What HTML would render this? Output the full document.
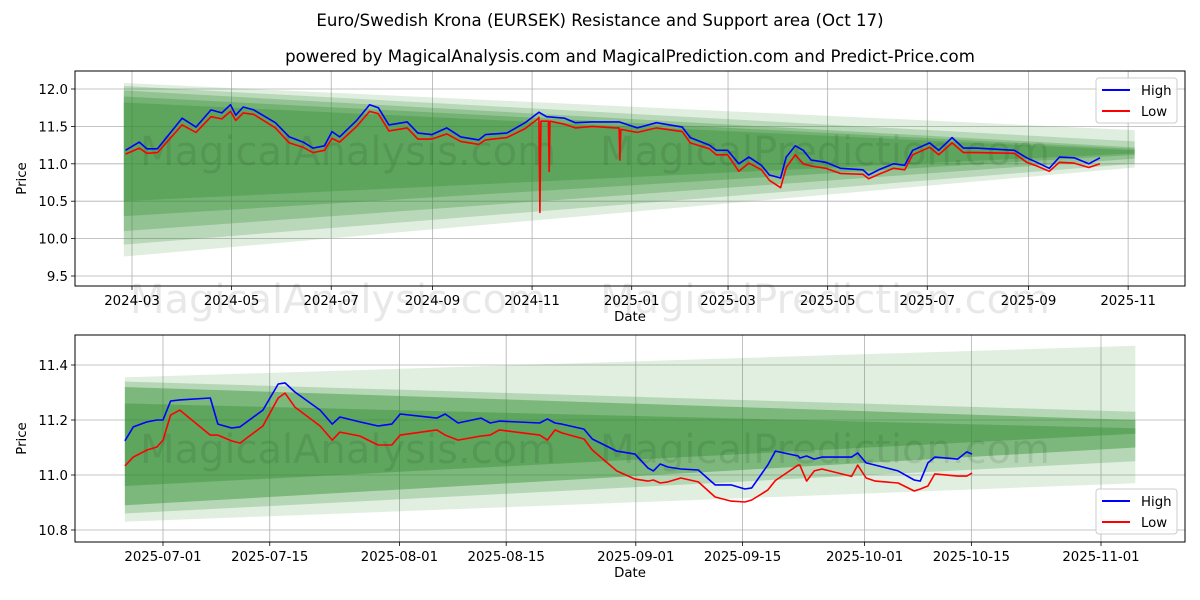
<!DOCTYPE html>
<html><head><meta charset="utf-8"><style>
body{margin:0;background:#fff;}
svg{display:block;font-family:"DejaVu Sans","Liberation Sans",sans-serif;}
</style></head><body>
<svg id="c" width="1200" height="600" viewBox="0 0 1200 600">
<text x="600" y="26" text-anchor="middle" font-size="16.6">Euro/Swedish Krona (EURSEK) Resistance and Support area (Oct 17)</text>
<text x="630" y="62" text-anchor="middle" font-size="16.6">powered by MagicalAnalysis.com and MagicalPrediction.com and Predict-Price.com</text>
</svg>
<script>
// ---- top chart data (days since 2024-03-01) ----
const topHighDays=[-4,4.5,9.1,15.6,30.7,39.2,48.4,55,60.3,63.5,68.1,74.6,87.8,96.3,104.8,110.8,117.9,122.5,127.1,137.6,145.5,150.8,157.3,168.5,175.1,183.6,192.8,201.3,212.4,216.4,229.5,240.7,249.2,253.8,264.9,271.5,282,298.3,309.4,321.1,337,341.9,353.6,357.8,364.7,371.6,377.8,385.4,390.3,397.2,400.6,406.2,411,415.9,424.8,433.8,447.6,451.1,457.3,466.3,473.2,478.1,488.4,494,502.2,509.2,516.8,540.3,547.9,554.1,561.7,567.9,576.9,585.9,592.8];
const topHigh=[11.18,11.29,11.2,11.2,11.61,11.49,11.72,11.68,11.79,11.65,11.76,11.72,11.55,11.36,11.29,11.21,11.24,11.43,11.36,11.58,11.79,11.75,11.52,11.56,11.41,11.39,11.48,11.36,11.32,11.39,11.41,11.55,11.69,11.63,11.61,11.55,11.56,11.56,11.48,11.55,11.49,11.35,11.25,11.18,11.18,11.0,11.09,10.98,10.85,10.81,11.09,11.24,11.18,11.05,11.02,10.94,10.92,10.85,10.92,11.0,10.98,11.18,11.28,11.18,11.35,11.21,11.21,11.18,11.08,11.02,10.94,11.09,11.08,11.0,11.08];
const topLowDays=[-4,4.5,9.1,15.6,30.7,39.2,48.4,55,60.3,63.5,68.1,74.6,87.8,96.3,104.8,110.8,117.9,122.5,127.1,137.6,145.5,150.8,157.3,168.5,175.1,183.6,192.8,201.3,212.4,216.4,229.5,240.7,248.5,249.2,249.8,250.4,253.8,255,255.5,256,264.9,271.5,282,296,298.3,298.8,299.3,309.4,321.1,337,341.9,353.6,357.8,364.7,371.6,377.8,385.4,390.3,397.2,400.6,406.2,411,415.9,424.8,433.8,447.6,451.1,457.3,466.3,473.2,478.1,488.4,494,502.2,509.2,516.8,540.3,547.9,554.1,561.7,567.9,576.9,585.9,592.8];
const topLow=[11.13,11.21,11.14,11.15,11.52,11.42,11.63,11.6,11.7,11.58,11.68,11.66,11.48,11.28,11.22,11.15,11.18,11.34,11.29,11.5,11.7,11.67,11.44,11.48,11.33,11.33,11.4,11.3,11.26,11.32,11.35,11.47,11.6,11.62,10.35,11.57,11.57,11.57,10.9,11.57,11.53,11.48,11.5,11.48,11.48,11.05,11.46,11.42,11.48,11.43,11.28,11.2,11.12,11.12,10.9,11.01,10.92,10.78,10.68,10.95,11.12,11.0,10.97,10.94,10.87,10.86,10.8,10.86,10.94,10.92,11.12,11.22,11.12,11.28,11.15,11.15,11.14,11.02,10.97,10.9,11.02,11.01,10.95,11.0];
const topTicks=["2024-03","2024-05","2024-07","2024-09","2024-11","2025-01","2025-03","2025-05","2025-07","2025-09","2025-11"];
const topTickDays=[0,61,122,184,245,306,365,426,487,549,610];
const topYTicks=[9.5,10.0,10.5,11.0,11.5,12.0];
const topBandsLT=[12.08,12.04,11.98,11.9,11.82];
const topBandsLB=[9.76,9.92,10.1,10.3,10.5];
const topBandsRT=[11.45,11.3,11.22,11.2,11.18];
const topBandsRB=[10.95,11.0,11.07,11.12,11.14];
// ---- bottom chart data (days since 2025-07-01) ----
const botDays=[-5,-3.9,-2.1,-0.8,0,1,2.2,6.2,7.2,9,10.1,13.1,15.1,16,17.3,20.6,22.2,23.2,25.8,28.2,30,31.1,35.9,37,38.7,41.7,42.9,44.1,49.4,50.4,51.4,52.3,55.2,56.3,59.5,61.9,63.6,64.3,65.2,66.2,67.9,70.2,72.4,74.5,76.3,77.2,79.3,80.3,83.3,83.5,84.4,85.4,86.4,90.3,91.1,92.2,93.4,96.4,98.5,99.3,100.3,101.2,104.2,105.4,106.1];
const botHigh=[11.124,11.175,11.193,11.2,11.2,11.269,11.273,11.28,11.185,11.171,11.175,11.236,11.331,11.335,11.302,11.236,11.185,11.211,11.193,11.178,11.185,11.222,11.207,11.222,11.189,11.207,11.189,11.196,11.189,11.204,11.189,11.185,11.167,11.131,11.087,11.076,11.025,11.015,11.04,11.029,11.022,11.018,10.964,10.964,10.949,10.953,11.036,11.087,11.069,11.062,11.069,11.058,11.065,11.065,11.08,11.044,11.036,11.015,10.982,10.978,11.044,11.065,11.058,11.084,11.076];
const botLow=[11.033,11.065,11.091,11.102,11.127,11.218,11.236,11.145,11.145,11.124,11.116,11.178,11.28,11.298,11.247,11.178,11.127,11.156,11.142,11.109,11.109,11.145,11.164,11.145,11.127,11.142,11.145,11.164,11.145,11.127,11.164,11.153,11.131,11.091,11.015,10.985,10.978,10.982,10.971,10.975,10.989,10.975,10.92,10.905,10.902,10.909,10.945,10.98,11.036,11.036,10.978,11.015,11.022,10.995,11.036,10.989,10.978,10.971,10.942,10.949,10.96,11.004,10.996,10.996,11.007];
const botTicks=["2025-07-01","2025-07-15","2025-08-01","2025-08-15","2025-09-01","2025-09-15","2025-10-01","2025-10-15","2025-11-01"];
const botTickDays=[0,14,31,45,62,76,92,106,123];
const botYTicks=[10.8,11.0,11.2,11.4];
const botBandsLT=[11.355,11.34,11.32,11.26];
const botBandsLB=[10.83,10.86,10.89,10.96];
const botBandsRT=[11.47,11.23,11.2,11.17];
const botBandsRB=[10.97,11.05,11.1,11.15];

const NS="http://www.w3.org/2000/svg";
const svg=document.getElementById('c');
function mk(tag,attrs,parent){const e=document.createElementNS(NS,tag);for(const k in attrs)e.setAttribute(k,attrs[k]);(parent||svg).appendChild(e);return e;}

function panel(cfg){
  const g=mk('g',{});
  
  
  const X=d=>cfg.x0+(d-cfg.d0)*cfg.pxd;
  const Y=v=>cfg.y0-(v-cfg.v0)*cfg.pxv;
  cfg.tickDays.forEach((d,i)=>{
    const l=mk('line',{x1:X(d),x2:X(d),y1:cfg.top,y2:cfg.bot,stroke:'#b0b0b0','stroke-width':0.8},g);
    
    
    mk('line',{x1:X(d),x2:X(d),y1:cfg.bot,y2:cfg.bot+4,stroke:'#000','stroke-width':0.8},g);
    const t=mk('text',{x:X(d),y:cfg.bot+19,'text-anchor':'middle','font-size':13.3},g);
    t.textContent=cfg.ticks[i];
    
    
  });
  cfg.yTicks.forEach(v=>{
    const l=mk('line',{x1:cfg.left,x2:cfg.right,y1:Y(v),y2:Y(v),stroke:'#b0b0b0','stroke-width':0.8},g);
    
    
    mk('line',{x1:cfg.left-4,x2:cfg.left,y1:Y(v),y2:Y(v),stroke:'#000','stroke-width':0.8},g);
    const t=mk('text',{x:cfg.left-7,y:Y(v)+5,'text-anchor':'end','font-size':13.3},g);
    t.textContent=v.toFixed(1);
    
    
  });
  cfg.LT.forEach((lt,i)=>{
    const xa=X(cfg.bd0),xb=X(cfg.bd1);
    const p=mk('polygon',{points:`${xa},${Y(lt)} ${xb},${Y(cfg.RT[i])} ${xb},${Y(cfg.RB[i])} ${xa},${Y(cfg.LB[i])}`,fill:'#2e8b2e','fill-opacity':cfg.alphas[i]},g);
    
    
  });
  cfg.marks.forEach(m=>{
    const t=mk('text',{x:m[0],y:m[1],'font-size':40,fill:'#000','fill-opacity':0.09},g);
    t.textContent=m[2];
    
    
  });
  const path=(days,vals)=>days.map((d,i)=>(i?'L':'M')+X(d).toFixed(1)+','+Y(vals[i]).toFixed(1)).join(' ');
  const hl=mk('path',{d:path(cfg.hd,cfg.h),fill:'none',stroke:'#0000ff','stroke-width':1.6,'stroke-linejoin':'round'},g);
  
  
  const ll=mk('path',{d:path(cfg.ld,cfg.l),fill:'none',stroke:'#ff0000','stroke-width':1.6,'stroke-linejoin':'round'},g);
  
  
  const f=mk('rect',{x:cfg.left,y:cfg.top,width:cfg.right-cfg.left,height:cfg.bot-cfg.top,fill:'none',stroke:'#000','stroke-width':1},g);
  
  
  const xt=mk('text',{x:(cfg.left+cfg.right)/2,y:cfg.bot+35,'text-anchor':'middle','font-size':13.3},g);
  xt.textContent='Date';
  
  
  const yt=mk('text',{x:0,y:0,'text-anchor':'middle','font-size':13.3,transform:`translate(26,${(cfg.top+cfg.bot)/2}) rotate(-90)`},g);
  yt.textContent='Price';
  
  
  const lg=mk('g',{},g);
  
  
  const ly=cfg.legY;
  mk('rect',{x:1096,y:ly,width:81,height:45,rx:3,fill:'#fff','fill-opacity':0.85,stroke:'#ccc'},lg);
  [['High','#0000ff'],['Low','#ff0000']].forEach((e,i)=>{
    const yy=ly+12+i*21;
    mk('line',{x1:1102,x2:1130,y1:yy,y2:yy,stroke:e[1],'stroke-width':2},lg);
    const t=mk('text',{x:1141,y:yy+5,'font-size':13.3},lg);
    t.textContent=e[0];
    
    
  });
}
panel({name:'top-panel',left:75,right:1185,top:71,bot:286,x0:132,d0:0,pxd:1.633,y0:89,v0:12.0,pxv:74.8,
  ticks:topTicks,tickDays:topTickDays,yTicks:topYTicks,LT:topBandsLT,LB:topBandsLB,RT:topBandsRT,RB:topBandsRB,
  alphas:[0.15,0.22,0.27,0.3,0.32],bd0:-5,bd1:614,hd:topHighDays,h:topHigh,ld:topLowDays,l:topLow,legY:78,
  marks:[[140,165,'MagicalAnalysis.com'],[600,165,'MagicalPrediction.com'],[130,313,'MagicalAnalysis.com'],[600,313,'MagicalPrediction.com']]});
panel({name:'bottom-panel',left:75,right:1185,top:335,bot:542,x0:163,d0:0,pxd:7.626,y0:365,v0:11.4,pxv:275,
  ticks:botTicks,tickDays:botTickDays,yTicks:botYTicks,LT:botBandsLT,LB:botBandsLB,RT:botBandsRT,RB:botBandsRB,
  alphas:[0.14,0.24,0.42,0.38],bd0:-5,bd1:127.5,hd:botDays,h:botHigh,ld:botDays,l:botLow,legY:489,
  marks:[[140,463,'MagicalAnalysis.com'],[600,463,'MagicalPrediction.com']]});
</script>
</body></html>
